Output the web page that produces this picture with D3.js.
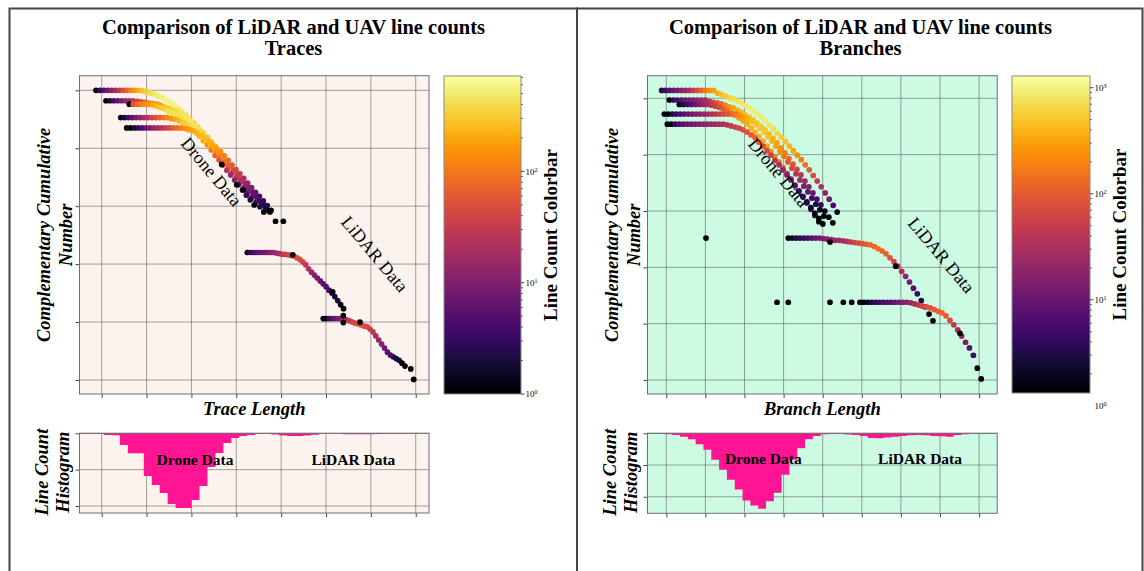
<!DOCTYPE html>
<html>
<head>
<meta charset="utf-8">
<script src="https://cdn.jsdelivr.net/npm/d3@7/dist/d3.min.js"></script>
<style>
  html, body { margin: 0; padding: 0; background: #ffffff; }
  svg { display: block; font-family: "Liberation Serif", "Times New Roman", Times, serif; }
</style>
</head>
<body>
<svg id="fig" width="1144" height="571"></svg>
<script>
// ===================== Traces =====================
// Complementary cumulative number (log10) per log10-length bin, one array per flight.
const traceDroneBinWidth = 0.087;
const traceDroneStart = [-0.127, 0.096, 0.615, 0.424, 0.557];
const traceDroneCCDF = [
  [5.00,5.00,5.00,5.00,5.00,5.00,5.00,5.00,5.00,5.00,5.00,5.00,4.99,4.97,4.95,4.93,4.90,4.87,4.83,4.79,4.75,4.69,4.63,4.57,4.51,4.44,4.36,4.28,4.19,4.11,4.02,3.94,3.85,3.76,3.68,3.59,3.50,3.42,3.33,3.25,3.16,3.07,2.99,2.90,null,null,2.74,null,2.74],
  [4.82,4.82,4.82,4.82,4.82,4.82,4.82,4.82,4.81,4.80,4.79,4.78,4.77,4.76,4.74,4.71,4.69,4.66,4.63,4.59,4.55,4.50,4.45,4.39,4.33,4.26,4.19,4.11,4.03,3.95,3.87,3.78,3.69,3.61,3.52,3.43,3.35,3.27,3.19,3.12,3.04,2.96,2.90],
  [4.76,4.76,4.76,4.76,4.76,4.76,4.75,4.73,4.70,4.68,4.64,4.61,4.57,4.52,4.47,4.41,4.35,4.28,4.21,4.13,4.06,3.97,3.88,3.80,3.71,3.62,3.54,3.45,3.37,3.28,3.19,3.11,3.02],
  [4.53,4.53,4.53,4.53,4.53,4.53,4.53,4.53,4.53,4.53,4.53,4.53,4.53,4.51,4.50,4.47,4.44,4.40,4.36,4.31,4.26,4.20,4.14,4.07,4.00,3.93,3.85,3.77,3.69,3.62,3.54,3.46,3.38,3.31,3.23,3.15,3.07,3.00,2.92],
  [4.35,4.35,4.35,4.35,4.35,4.35,4.35,4.35,4.35,4.35,4.35,4.35,4.35,4.35,4.35,4.34,4.32,4.30,4.26,4.22,4.18,4.13,4.06,4.00,3.94,3.87,3.79,3.71,3.63,3.56,3.48,3.40,3.32,3.24,3.17,3.09,3.01,2.93]
];
// Number of lines in each bin (drives the colour)
const traceDroneCount = [
  [1,3,5,8,12,18,28,45,70,110,160,220,280,340,400,450,500,540,560,560,540,500,450,400,350,300,250,200,160,130,100,80,60,45,35,26,19,14,10,7,5,3,2,1,null,null,1,null,1],
  [1,2,4,6,9,13,18,25,35,45,60,80,100,130,170,220,280,330,380,420,450,470,470,450,420,380,330,280,230,180,140,100,70,50,35,24,16,10,7,4,3,2,1],
  [1,50,80,100,130,160,200,250,300,350,400,430,450,440,420,380,330,280,230,180,140,100,70,50,35,24,16,11,7,5,3,2,1],
  [1,2,4,6,9,13,18,26,36,50,70,95,125,160,200,250,300,340,370,380,370,340,300,250,200,160,120,90,65,45,32,22,15,10,7,5,3,2,1],
  [1,1,2,3,5,7,10,14,19,26,35,48,65,85,110,140,170,200,230,250,250,230,200,170,140,110,80,60,42,30,20,14,9,6,4,3,2,1]
];
const traceLidarBinWidth = 0.065;
const traceLidarStart = [3.246, 4.940];
const traceLidarCCDF = [
  [2.20,2.20,2.20,2.20,2.20,2.20,2.20,2.20,2.20,2.20,2.19,2.18,2.17,2.17,2.16,2.15,2.14,2.11,2.08,2.04,1.99,1.92,1.86,1.81,1.76,1.71,1.66,1.61,1.55,1.50,1.44,1.37,1.30,1.23],
  [1.06,1.06,1.06,1.06,1.06,1.06,1.06,1.05,1.04,1.02,1.00,0.98,0.97,0.95,0.93,0.92,0.88,0.83,0.76,0.69,0.62,0.55,0.48,0.43,0.40,0.37,0.34,0.29,0.24,null,0.19,0.01]
];
const traceLidarCount = [
  [1,3,4,5,6,7,8,9,11,13,16,20,25,32,40,46,50,50,46,38,30,22,16,12,9,7,6,5,4,3,2,2,1,1],
  [1,1,3,5,7,9,12,16,22,30,38,45,50,52,50,44,36,28,20,15,11,8,6,5,3,2,2,1,1,null,1,1]
];
// Isolated single-line bins: [log10 length, log10 CCDF]
const traceSingles = [[2.675,3.72],[3.009,3.37],[3.157,3.28],[4.258,2.16],[5.149,1.52],[5.386,1.11],[5.386,0.99],[5.758,1.00]];
// Histogram of drone + LiDAR trace lengths
const traceHistStart = 0.05;
const traceHistWidth = 0.1775;
const traceHistCounts = [230,270,1600,2750,2750,5870,7110,8210,9720,10270,10270,9170,7250,4630,2700,1330,650,370,230,60,30,150,300,370,370,300,200,40,30,30,140,140,140,140,100];

// ===================== Branches =====================
const branchDroneBinWidth = 0.102;
const branchDroneStart = [-0.118, 0.077, 0.332, -0.051, 0.026];
const branchDroneCCDF = [
  [5.14,5.14,5.14,5.14,5.14,5.14,5.14,5.14,5.14,5.14,5.14,5.14,5.14,5.14,5.09,5.07,5.04,5.01,4.99,4.95,4.92,4.87,4.83,4.78,4.72,4.66,4.60,4.53,4.46,4.38,4.31,4.23,4.15,4.07,3.99,3.91,3.82,3.73,3.63,3.53,3.43,3.32,3.21,3.10,2.98],
  [4.97,4.97,4.97,4.97,4.97,4.97,4.97,4.97,4.97,4.97,4.95,4.93,4.92,4.90,4.88,4.85,4.83,4.79,4.76,4.71,4.67,4.62,4.56,4.50,4.44,4.37,4.29,4.21,4.12,4.03,3.93,3.83,3.74,3.64,3.53,3.43,3.32,3.21,3.11,3.00,2.89,2.79],
  [4.89,4.89,4.89,4.89,4.89,4.89,4.89,4.89,4.88,4.86,4.84,4.81,4.78,4.74,4.70,4.65,4.60,4.54,4.47,4.40,4.32,4.24,4.15,4.06,3.97,3.87,3.77,3.67,3.57,3.46,3.36,3.25,3.14,3.03,2.92,2.81],
  [4.72,4.72,4.72,4.72,4.72,4.72,4.72,4.72,4.72,4.72,4.72,4.72,4.72,4.72,4.72,4.72,4.72,4.72,4.72,4.69,4.67,4.63,4.59,4.53,4.47,4.40,4.32,4.24,4.15,4.06,3.97,3.87,3.76,3.66,3.55,3.44,3.34,3.23,3.12,3.02,2.91],
  [4.54,4.54,4.54,4.54,4.54,4.54,4.54,4.54,4.54,4.54,4.54,4.54,4.54,4.54,4.54,4.53,4.51,4.49,4.47,4.44,4.40,4.35,4.30,4.22,4.15,4.07,3.99,3.90,3.82,3.73,3.64,3.55,3.45,3.35,3.26,3.16,3.06,2.96,2.87,2.77]
];
const branchDroneCount = [
  [3,5,7,10,13,17,22,30,45,70,110,160,220,300,380,450,520,600,680,750,800,850,880,900,900,880,850,800,720,640,560,480,400,320,250,190,140,100,70,48,32,20,12,6,2],
  [1,4,6,8,10,12,15,18,22,28,40,60,90,130,180,240,300,360,420,470,500,520,520,500,470,420,360,300,240,180,130,90,60,40,26,16,10,6,4,2,1,1],
  [1,3,5,7,10,14,20,28,40,55,75,100,135,175,220,270,320,360,390,400,390,360,320,270,220,170,125,90,60,40,26,16,10,6,3,1],
  [1,1,3,5,6,8,10,12,15,18,22,27,34,42,55,70,90,120,160,220,300,380,450,500,520,500,450,380,300,220,150,100,65,40,25,15,9,5,3,2,1],
  [1,1,4,6,8,10,12,14,16,18,20,22,25,28,32,38,45,55,65,75,85,95,100,95,85,70,55,40,28,20,14,10,7,5,4,3,2,1,1,1]
];
const branchLidarBinWidth = 0.1;
const branchLidarStart = [3.120, 4.954];
const branchLidarCCDF = [
  [2.52,2.52,2.52,2.52,2.52,2.52,2.52,2.52,2.52,2.51,2.50,2.49,2.48,2.48,2.47,2.46,2.45,2.44,2.43,2.42,2.41,2.40,2.37,2.33,2.29,2.24,2.17,2.10,2.02,1.93,1.84,1.74,1.63,1.53,1.41,1.30,1.17,1.05],
  [1.38,1.38,1.38,1.38,1.38,1.38,1.38,1.38,1.38,1.38,1.38,1.38,1.38,1.37,1.35,1.33,1.31,1.30,1.28,1.25,1.22,1.19,1.14,1.06,0.98,0.89,0.78,0.67,0.57,0.44,0.21,0.02]
];
const branchLidarCount = [
  [1,2,3,4,5,6,8,10,12,14,16,19,22,26,30,36,46,58,72,88,100,115,125,130,125,110,90,65,45,30,20,13,8,5,3,2,1,1],
  [1,1,2,3,4,5,6,7,8,10,12,15,18,22,30,45,60,75,90,100,110,115,105,70,45,30,20,13,8,4,1,1]
];
const branchSingles = [[1.015,2.52],[4.187,2.45],[5.867,2.02],[2.831,1.38],[3.120,1.38],[4.187,1.38],[4.527,1.38],[4.742,1.38],[7.512,0.83]];
const branchHistStart = -0.05;
const branchHistWidth = 0.2;
const branchHistCounts = [160,270,530,940,1720,2600,4170,5730,7300,8860,10580,11360,11880,10690,9380,6510,4170,2340,940,420,160,80,80,200,260,420,730,780,650,530,420,310,260,310,420,470,530,260,150];

// ===================== Layout =====================
const panels = [
  {
    id: "traces",
    title: ["Comparison of LiDAR and UAV line counts", "Traces"],
    xLabel: "Trace Length",
    frame: { x: 9.5, y: 8.5, w: 567.5, h: 620 },
    centerX: 293.5,
    bg: "#fdf3ee",
    plotBox: { left: 79.5, top: 75.7, right: 429, bottom: 394 },
    histBox: { left: 79.5, top: 433.3, right: 429, bottom: 513 },
    cbarBox: { left: 444, top: 76, right: 521, bottom: 394 },
    xDomain: [-0.495, 7.296],
    yDomain: [-0.242, 5.252],
    xTicks: [0, 1, 2, 3, 4, 5, 6, 7],
    yTicks: [0, 1, 2, 3, 4, 5],
    histMax: 10960,
    histTicks: [0, 5000, 10000],
    cDomain: [1, 720],
    cTicks: [1, 10, 100],
    drone: { start: traceDroneStart, width: traceDroneBinWidth, ccdf: traceDroneCCDF, count: traceDroneCount },
    lidar: { start: traceLidarStart, width: traceLidarBinWidth, ccdf: traceLidarCCDF, count: traceLidarCount },
    singles: traceSingles,
    hist: { start: traceHistStart, width: traceHistWidth, counts: traceHistCounts },
    notes: [{ t: "Drone Data", x: 2.45, y: 3.595 }, { t: "LiDAR Data", x: 6.09, y: 2.175 }],
    histNotes: [{ t: "Drone Data", x: 2.08, y: 3580 }, { t: "LiDAR Data", x: 5.61, y: 3580 }]
  },
  {
    id: "branches",
    title: ["Comparison of LiDAR and UAV line counts", "Branches"],
    xLabel: "Branch Length",
    frame: { x: 577, y: 8.5, w: 565.5, h: 620 },
    centerX: 860.5,
    bg: "#cdfae3",
    plotBox: { left: 647.5, top: 75.7, right: 997.2, bottom: 394 },
    histBox: { left: 647.5, top: 433.3, right: 997.2, bottom: 513.3 },
    cbarBox: { left: 1012, top: 76, right: 1090, bottom: 393 },
    xDomain: [-0.481, 8.463],
    yDomain: [-0.248, 5.401],
    xTicks: [0, 1, 2, 3, 4, 5, 6, 7, 8],
    yTicks: [0, 1, 2, 3, 4, 5],
    histMax: 12600,
    histTicks: [0, 5000, 10000],
    cDomain: [1.32, 1290],
    cTicks: [1, 10, 100, 1000],
    drone: { start: branchDroneStart, width: branchDroneBinWidth, ccdf: branchDroneCCDF, count: branchDroneCount },
    lidar: { start: branchLidarStart, width: branchLidarBinWidth, ccdf: branchLidarCCDF, count: branchLidarCount },
    singles: branchSingles,
    hist: { start: branchHistStart, width: branchHistWidth, counts: branchHistCounts },
    notes: [{ t: "Drone Data", x: 2.88, y: 3.683 }, { t: "LiDAR Data", x: 7.04, y: 2.219 }],
    histNotes: [{ t: "Drone Data", x: 2.48, y: 4050 }, { t: "LiDAR Data", x: 6.49, y: 4050 }]
  }
];

const svg = d3.select("#fig");
const defs = svg.append("defs");
const GRID = "#555555";
const SPINE = "#6e6e6e";
const TICK = "#444";

function gridAndAxes(g, box, x, y, xTicks, yTicks) {
  g.append("g").selectAll("line").data(xTicks).join("line")
    .attr("x1", d => x(d)).attr("x2", d => x(d))
    .attr("y1", box.top).attr("y2", box.bottom)
    .attr("stroke", GRID).attr("stroke-opacity", 0.55).attr("stroke-width", 1);
  g.append("g").selectAll("line").data(yTicks).join("line")
    .attr("x1", box.left).attr("x2", box.right)
    .attr("y1", d => y(d)).attr("y2", d => y(d))
    .attr("stroke", GRID).attr("stroke-opacity", 0.55).attr("stroke-width", 1);

  const ax = g.append("g").attr("transform", `translate(0,${box.bottom})`)
    .call(d3.axisBottom(x).tickValues(xTicks).tickSize(4).tickFormat(""));
  const ay = g.append("g").attr("transform", `translate(${box.left},0)`)
    .call(d3.axisLeft(y).tickValues(yTicks).tickSize(4).tickFormat(""));
  [ax, ay].forEach(a => {
    a.select(".domain").remove();
    a.selectAll(".tick line").attr("stroke", TICK).attr("stroke-width", 1);
  });
}

function frame(g, box) {
  g.append("rect")
    .attr("x", box.left).attr("y", box.top)
    .attr("width", box.right - box.left).attr("height", box.bottom - box.top)
    .attr("fill", "none").attr("stroke", SPINE).attr("stroke-width", 1);
}

function rotatedLabel(g, cx, cy, text, size) {
  g.append("text")
    .attr("transform", `translate(${cx},${cy}) rotate(-90)`)
    .attr("text-anchor", "middle").attr("dy", "0.35em")
    .attr("font-size", size).attr("font-weight", "bold").attr("font-style", "italic")
    .attr("fill", "#000").text(text);
}

function drawPanel(p) {
  const g = svg.append("g").attr("class", p.id);

  // outer panel border
  g.append("rect").attr("x", p.frame.x).attr("y", p.frame.y)
    .attr("width", p.frame.w).attr("height", p.frame.h)
    .attr("fill", "none").attr("stroke", "#444").attr("stroke-width", 2);

  // title
  p.title.forEach((line, i) => {
    g.append("text").attr("x", p.centerX).attr("y", 34 + i * 20.5)
      .attr("text-anchor", "middle").attr("font-size", 20.5).attr("font-weight", "bold")
      .attr("fill", "#000").text(line);
  });

  // ---------- scatter (CCDF) ----------
  const B = p.plotBox;
  const x = d3.scaleLinear().domain(p.xDomain).range([B.left, B.right]);
  const y = d3.scaleLinear().domain(p.yDomain).range([B.bottom, B.top]);
  const color = d3.scaleSequentialLog(d3.interpolateInferno).domain(p.cDomain).clamp(true);

  g.append("rect").attr("x", B.left).attr("y", B.top)
    .attr("width", B.right - B.left).attr("height", B.bottom - B.top).attr("fill", p.bg);
  gridAndAxes(g, B, x, y, p.xTicks, p.yTicks);

  const pts = [];
  [p.drone, p.lidar].forEach(set => {
    set.start.forEach((s, i) => {
      set.ccdf[i].forEach((v, k) => {
        const c = set.count[i][k];
        if (v !== null && c !== null) pts.push({ x: s + k * set.width, y: v, c });
      });
    });
  });
  p.singles.forEach(d => pts.push({ x: d[0], y: d[1], c: 1 }));

  g.append("g").selectAll("circle").data(pts).join("circle")
    .attr("cx", d => x(d.x)).attr("cy", d => y(d.y)).attr("r", 2.85)
    .attr("fill", d => color(d.c));

  frame(g, B);

  p.notes.forEach(n => {
    g.append("text")
      .attr("transform", `translate(${x(n.x)},${y(n.y)}) rotate(50)`)
      .attr("text-anchor", "middle").attr("dy", "0.35em")
      .attr("font-size", 18).attr("fill", "#000").text(n.t);
  });

  const ccx = B.left - 35.5, ccy = (B.top + B.bottom) / 2;
  rotatedLabel(g, ccx, ccy, "Complementary Cumulative", 18.5);
  rotatedLabel(g, B.left - 13.5, ccy, "Number", 18.5);

  g.append("text").attr("x", (B.left + B.right) / 2).attr("y", 414.5)
    .attr("text-anchor", "middle").attr("font-size", 18.5)
    .attr("font-weight", "bold").attr("font-style", "italic").text(p.xLabel);

  // ---------- histogram (hanging from the top) ----------
  const H = p.histBox;
  const hx = d3.scaleLinear().domain(p.xDomain).range([H.left, H.right]);
  const hy = d3.scaleLinear().domain([0, p.histMax]).range([H.top, H.bottom]);
  g.append("rect").attr("x", H.left).attr("y", H.top)
    .attr("width", H.right - H.left).attr("height", H.bottom - H.top).attr("fill", p.bg);
  gridAndAxes(g, H, hx, hy, p.xTicks, p.histTicks);

  const bins = p.hist.counts.map((c, k) => ({ x: p.hist.start + k * p.hist.width, c }));
  bins.push({ x: p.hist.start + p.hist.counts.length * p.hist.width, c: p.hist.counts[p.hist.counts.length - 1] });
  const area = d3.area().curve(d3.curveStepAfter)
    .x(d => hx(d.x)).y0(hy(0)).y1(d => hy(d.c));
  g.append("path").datum(bins).attr("d", area).attr("fill", "#ff1493");

  frame(g, H);

  p.histNotes.forEach(n => {
    g.append("text").attr("x", hx(n.x)).attr("y", hy(n.y)).attr("dy", "0.35em")
      .attr("text-anchor", "middle").attr("font-size", 15.5).attr("font-weight", "bold")
      .attr("fill", "#000").text(n.t);
  });

  const hcy = (H.top + H.bottom) / 2 - 1;
  rotatedLabel(g, H.left - 37.8, hcy, "Line Count", 18.5);
  rotatedLabel(g, H.left - 16.8, hcy, "Histogram", 18.5);

  // ---------- colorbar ----------
  const C = p.cbarBox;
  const gid = p.id + "-inferno";
  const grad = defs.append("linearGradient").attr("id", gid)
    .attr("x1", 0).attr("y1", 1).attr("x2", 0).attr("y2", 0);
  d3.range(0, 1.0001, 0.04).forEach(t => {
    grad.append("stop").attr("offset", t).attr("stop-color", d3.interpolateInferno(t));
  });
  g.append("rect").attr("x", C.left).attr("y", C.top)
    .attr("width", C.right - C.left).attr("height", C.bottom - C.top)
    .attr("fill", `url(#${gid})`).attr("stroke", "#8a8a8a").attr("stroke-width", 1);

  const cy = d3.scaleLog().domain(p.cDomain).range([C.bottom, C.top]);
  const lo = Math.floor(Math.log10(p.cDomain[0])), hi = Math.ceil(Math.log10(p.cDomain[1]));
  const minor = [];
  for (let e = lo; e <= hi; e++) {
    for (let m = 2; m <= 9; m++) {
      const v = m * Math.pow(10, e);
      if (v >= p.cDomain[0] && v <= p.cDomain[1]) minor.push(v);
    }
  }
  g.append("g").selectAll("line").data(minor).join("line")
    .attr("x1", C.right).attr("x2", C.right + 2)
    .attr("y1", d => cy(d)).attr("y2", d => cy(d))
    .attr("stroke", TICK).attr("stroke-width", 0.8);
  g.append("g").selectAll("line").data(p.cTicks.filter(v => v >= p.cDomain[0] && v <= p.cDomain[1])).join("line")
    .attr("x1", C.right).attr("x2", C.right + 3.5)
    .attr("y1", d => cy(d)).attr("y2", d => cy(d))
    .attr("stroke", TICK).attr("stroke-width", 1);
  p.cTicks.forEach(v => {
    const t = g.append("text").attr("x", C.right + 4.5).attr("y", cy(v)).attr("dy", "0.38em")
      .attr("font-size", 9).attr("fill", "#000");
    t.append("tspan").text("10");
    t.append("tspan").attr("dy", "-0.5em").attr("font-size", 6).text(String(Math.round(Math.log10(v))));
  });

  g.append("text")
    .attr("transform", `translate(${C.right + 29},${(C.top + C.bottom) / 2}) rotate(-90)`)
    .attr("text-anchor", "middle").attr("dy", "0.35em")
    .attr("font-size", 19).attr("font-weight", "bold").attr("fill", "#000")
    .text("Line Count Colorbar");
}

panels.forEach(drawPanel);
</script>
</body>
</html>
